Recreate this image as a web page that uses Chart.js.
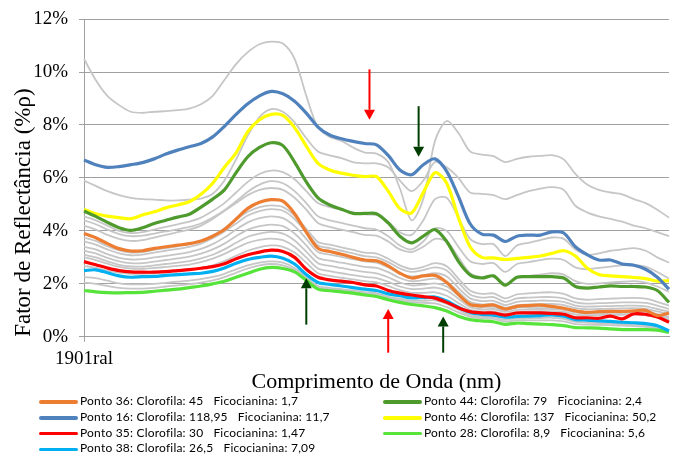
<!DOCTYPE html>
<html>
<head>
<meta charset="utf-8">
<script src="https://cdn.jsdelivr.net/npm/chart.js@4.4.0/dist/chart.umd.min.js"></script>
<style>
  body { margin: 0; background: #fff; }
  #wrap { position: relative; width: 682px; height: 457px; }
  #chart { position: absolute; left: 0; top: 0; }
  .leg { position: absolute; font: 12px Lato, sans-serif; letter-spacing: 0.2px; color: #000; white-space: nowrap; line-height: 14px; }
  .leg i { display: inline-block; width: 39px; height: 3.5px; border-radius: 2px; vertical-align: middle; margin-right: 2px; }
  .leg b { font-weight: normal; margin-left: 10px; }
</style>
</head>
<body>
<div id="wrap">
  <canvas id="chart" width="682" height="395"></canvas>
  <div id="legend"></div>
</div>
<script>
// comprimento de onda (nm) - so o primeiro rotulo aparece no eixo
const wavelengths = [400, 410, 420, 430, 440, 450, 460, 470, 480, 490,
  500, 510, 520, 530, 540, 550, 560, 570, 580, 590,
  600, 610, 620, 630, 640, 650, 660, 670, 680, 690,
  700, 710, 720, 730, 740, 750, 760, 770, 780, 790,
  800, 810, 820, 830, 840, 850, 860, 870, 880, 890, 900];
const xTickLabel = '1901ral';
const yTicks = [0, 2, 4, 6, 8, 10, 12];

// pontos destacados
const pontos = ['Ponto 36', 'Ponto 16', 'Ponto 35', 'Ponto 38', 'Ponto 44', 'Ponto 46', 'Ponto 28'];
const clorofila = ['45', '118,95', '30', '26,5', '79', '137', '8,9'];
const ficocianina = ['1,7', '11,7', '1,47', '7,09', '2,4', '50,2', '5,6'];
const colors = ['#ED7D31', '#4F81BD', '#FF0000', '#00B0F0', '#4E9A2C', '#FFFF00', '#56E33A'];

const p36 = [3.90, 3.74, 3.52, 3.33, 3.24, 3.25, 3.34, 3.40, 3.46, 3.52, 3.62, 3.80, 4.05, 4.45, 4.85, 5.08, 5.18, 5.12, 4.65, 3.95,
  3.34, 3.22, 3.12, 3.00, 2.90, 2.87, 2.68, 2.40, 2.22, 2.30, 2.32, 2.05, 1.60, 1.22, 1.17, 1.20, 1.05, 1.15, 1.18, 1.20,
  1.15, 1.08, 0.98, 0.92, 0.95, 0.96, 0.96, 0.98, 1.00, 0.80, 0.90];
const p16 = [6.68, 6.50, 6.40, 6.43, 6.50, 6.58, 6.72, 6.90, 7.05, 7.18, 7.30, 7.55, 7.95, 8.40, 8.80, 9.10, 9.27, 9.18, 8.90, 8.45,
  7.92, 7.62, 7.48, 7.38, 7.30, 7.25, 6.85, 6.30, 6.12, 6.50, 6.72, 6.25, 5.30, 4.27, 3.88, 3.84, 3.60, 3.80, 3.84, 3.84,
  3.96, 3.92, 3.40, 3.10, 2.90, 2.90, 2.75, 2.70, 2.55, 2.25, 1.80];
const p35 = [2.84, 2.72, 2.60, 2.50, 2.45, 2.44, 2.44, 2.46, 2.50, 2.54, 2.59, 2.65, 2.76, 2.95, 3.10, 3.20, 3.27, 3.22, 3.00, 2.55,
  2.25, 2.15, 2.10, 2.05, 1.96, 1.92, 1.75, 1.65, 1.58, 1.52, 1.46, 1.30, 1.10, 0.95, 0.90, 0.90, 0.82, 0.90, 0.90, 0.90,
  0.88, 0.85, 0.72, 0.72, 0.70, 0.78, 0.68, 0.87, 0.85, 0.75, 0.55];
const p38 = [2.50, 2.53, 2.42, 2.30, 2.25, 2.27, 2.28, 2.32, 2.35, 2.38, 2.40, 2.47, 2.60, 2.78, 2.92, 3.00, 3.05, 2.97, 2.75, 2.35,
  2.05, 1.98, 1.92, 1.86, 1.80, 1.75, 1.62, 1.55, 1.47, 1.48, 1.50, 1.35, 1.12, 0.92, 0.85, 0.82, 0.74, 0.77, 0.78, 0.80,
  0.83, 0.78, 0.65, 0.63, 0.60, 0.58, 0.55, 0.53, 0.50, 0.42, 0.22];
const p44 = [4.75, 4.55, 4.32, 4.12, 4.02, 4.12, 4.28, 4.40, 4.52, 4.63, 4.90, 5.20, 5.55, 6.20, 6.80, 7.15, 7.33, 7.22, 6.60, 5.85,
  5.25, 4.98, 4.82, 4.66, 4.66, 4.65, 4.30, 3.80, 3.55, 3.80, 4.05, 3.60, 2.85, 2.34, 2.22, 2.30, 1.95, 2.25, 2.27, 2.27,
  2.27, 2.22, 1.90, 1.84, 1.88, 1.92, 1.90, 1.90, 1.88, 1.75, 1.30];
const p46 = [4.81, 4.65, 4.56, 4.50, 4.46, 4.60, 4.72, 4.87, 4.98, 5.10, 5.38, 5.80, 6.40, 6.95, 7.75, 8.20, 8.40, 8.36, 7.90, 7.20,
  6.55, 6.30, 6.18, 6.10, 6.05, 6.05, 5.50, 4.84, 4.68, 5.45, 6.20, 5.80, 4.50, 3.40, 3.00, 2.98, 2.92, 2.96, 3.00, 3.05,
  3.15, 3.25, 3.05, 2.60, 2.35, 2.30, 2.27, 2.24, 2.20, 2.10, 2.12];
const p28 = [1.75, 1.70, 1.67, 1.66, 1.67, 1.68, 1.72, 1.76, 1.80, 1.86, 1.92, 2.00, 2.10, 2.25, 2.40, 2.55, 2.62, 2.58, 2.45, 2.13,
  1.80, 1.74, 1.70, 1.65, 1.58, 1.52, 1.40, 1.30, 1.22, 1.17, 1.10, 0.97, 0.78, 0.65, 0.60, 0.57, 0.47, 0.52, 0.50, 0.48,
  0.46, 0.42, 0.35, 0.34, 0.33, 0.30, 0.27, 0.27, 0.27, 0.25, 0.17];
const destaques = [p36, p16, p35, p38, p44, p46, p28];

// demais pontos (cinza)
const outros = [
  [10.5, 9.7, 9.1, 8.75, 8.5, 8.46, 8.50, 8.52, 8.56, 8.62, 8.78, 9.10, 9.70, 10.30, 10.75, 11.05, 11.15, 11.08, 10.5, 9.1,
   7.90, 7.55, 7.40, 7.15, 6.96, 6.92, 6.60, 5.60, 4.40, 5.20, 7.40, 8.15, 7.70, 7.00, 6.88, 6.82, 6.60, 6.72, 6.80, 6.83,
   6.86, 6.70, 6.15, 5.75, 5.55, 5.45, 5.38, 5.20, 5.05, 4.80, 4.50],
  [5.90, 5.70, 5.50, 5.35, 5.25, 5.20, 5.18, 5.15, 5.15, 5.18, 5.22, 5.40, 5.90, 6.70, 7.60, 8.30, 8.60, 8.50, 8.10, 7.50,
   7.00, 6.85, 6.75, 6.60, 6.55, 6.55, 6.40, 5.90, 5.50, 5.90, 6.60, 6.40, 6.00, 5.45, 5.40, 5.35, 5.20, 5.35, 5.50, 5.60,
   5.65, 5.55, 4.95, 4.70, 4.55, 4.45, 4.35, 4.20, 4.10, 3.95, 3.80],
  [4.55, 4.40, 4.20, 4.00, 3.92, 3.95, 4.05, 4.15, 4.25, 4.35, 4.50, 4.75, 5.05, 5.45, 5.85, 6.15, 6.28, 6.22, 5.95, 5.50,
   5.05, 4.90, 4.80, 4.70, 4.62, 4.60, 4.35, 3.95, 3.85, 4.40, 5.20, 5.25, 4.50, 3.70, 3.50, 3.50, 3.05, 3.45, 3.55, 3.65,
   3.75, 3.70, 3.30, 3.10, 3.15, 3.25, 3.30, 3.35, 3.25, 3.00, 2.80],
  [4.40, 4.25, 4.05, 3.88, 3.80, 3.82, 3.90, 3.98, 4.06, 4.15, 4.28, 4.50, 4.78, 5.12, 5.48, 5.75, 5.88, 5.80, 5.50, 5.05,
   4.55, 4.40, 4.30, 4.20, 4.10, 4.05, 3.80, 3.45, 3.30, 3.60, 4.10, 4.00, 3.40, 2.85, 2.75, 2.78, 2.45, 2.75, 2.82, 2.90,
   2.95, 2.90, 2.62, 2.55, 2.60, 2.65, 2.70, 2.72, 2.65, 2.45, 2.20],
  [4.20, 4.05, 3.85, 3.70, 3.62, 3.65, 3.75, 3.85, 3.95, 4.05, 4.20, 4.45, 4.75, 5.05, 5.35, 5.55, 5.62, 5.55, 5.25, 4.80,
   4.30, 4.15, 4.05, 3.95, 3.85, 3.82, 3.60, 3.30, 3.20, 3.40, 3.70, 3.60, 3.00, 2.40, 2.25, 2.28, 2.00, 2.25, 2.30, 2.35,
   2.40, 2.35, 2.10, 2.00, 2.02, 2.05, 2.08, 2.10, 2.05, 1.90, 1.70],
  [3.75, 3.62, 3.42, 3.26, 3.18, 3.20, 3.28, 3.35, 3.42, 3.50, 3.62, 3.82, 4.10, 4.42, 4.72, 4.90, 4.96, 4.90, 4.58, 4.08,
   3.58, 3.48, 3.38, 3.28, 3.18, 3.14, 2.95, 2.70, 2.56, 2.64, 2.78, 2.66, 2.20, 1.75, 1.62, 1.64, 1.45, 1.60, 1.64, 1.67,
   1.68, 1.62, 1.45, 1.40, 1.42, 1.44, 1.46, 1.47, 1.44, 1.32, 1.18],
  [3.60, 3.48, 3.30, 3.15, 3.08, 3.10, 3.18, 3.25, 3.32, 3.40, 3.52, 3.72, 3.98, 4.28, 4.58, 4.75, 4.82, 4.76, 4.45, 3.95,
   3.45, 3.35, 3.25, 3.15, 3.05, 3.00, 2.82, 2.58, 2.45, 2.52, 2.62, 2.50, 2.05, 1.60, 1.48, 1.50, 1.32, 1.45, 1.48, 1.50,
   1.50, 1.45, 1.30, 1.25, 1.27, 1.28, 1.30, 1.30, 1.28, 1.18, 1.05],
  [3.40, 3.30, 3.12, 2.98, 2.92, 2.93, 3.00, 3.06, 3.12, 3.20, 3.32, 3.50, 3.75, 4.05, 4.32, 4.48, 4.55, 4.48, 4.18, 3.70,
   3.20, 3.10, 3.02, 2.93, 2.85, 2.80, 2.62, 2.40, 2.28, 2.33, 2.40, 2.28, 1.85, 1.45, 1.35, 1.36, 1.20, 1.32, 1.35, 1.37,
   1.36, 1.32, 1.18, 1.14, 1.15, 1.16, 1.17, 1.18, 1.15, 1.05, 0.95],
  [3.25, 3.15, 2.98, 2.85, 2.78, 2.78, 2.84, 2.90, 2.96, 3.03, 3.14, 3.30, 3.52, 3.80, 4.05, 4.18, 4.24, 4.18, 3.90, 3.45,
   2.98, 2.88, 2.80, 2.72, 2.64, 2.60, 2.44, 2.22, 2.10, 2.14, 2.20, 2.08, 1.70, 1.32, 1.22, 1.24, 1.10, 1.20, 1.22, 1.24,
   1.24, 1.20, 1.08, 1.04, 1.05, 1.06, 1.07, 1.08, 1.05, 0.96, 0.86],
  [3.10, 3.00, 2.85, 2.72, 2.66, 2.65, 2.70, 2.75, 2.80, 2.86, 2.96, 3.10, 3.30, 3.55, 3.78, 3.90, 3.96, 3.90, 3.64, 3.22,
   2.78, 2.68, 2.60, 2.52, 2.45, 2.40, 2.25, 2.05, 1.94, 1.97, 2.02, 1.90, 1.56, 1.20, 1.12, 1.13, 1.00, 1.10, 1.12, 1.13,
   1.13, 1.10, 0.98, 0.94, 0.95, 0.96, 0.97, 0.98, 0.95, 0.86, 0.76],
  [3.00, 2.90, 2.76, 2.64, 2.58, 2.57, 2.60, 2.64, 2.68, 2.73, 2.82, 2.95, 3.13, 3.35, 3.55, 3.66, 3.71, 3.65, 3.40, 3.00,
   2.58, 2.48, 2.40, 2.33, 2.26, 2.22, 2.08, 1.90, 1.80, 1.82, 1.86, 1.75, 1.44, 1.12, 1.04, 1.05, 0.94, 1.02, 1.04, 1.05,
   1.05, 1.02, 0.92, 0.88, 0.89, 0.90, 0.90, 0.91, 0.88, 0.80, 0.70],
  [2.68, 2.60, 2.50, 2.42, 2.38, 2.38, 2.40, 2.44, 2.48, 2.53, 2.60, 2.70, 2.86, 3.06, 3.25, 3.38, 3.45, 3.40, 3.18, 2.80,
   2.40, 2.30, 2.23, 2.17, 2.10, 2.06, 1.92, 1.76, 1.66, 1.66, 1.68, 1.55, 1.28, 1.02, 0.96, 0.96, 0.86, 0.94, 0.96, 0.97,
   0.97, 0.94, 0.84, 0.82, 0.82, 0.83, 0.83, 0.84, 0.82, 0.74, 0.64],
  [2.25, 2.22, 2.12, 2.02, 1.98, 1.98, 2.00, 2.04, 2.08, 2.12, 2.18, 2.26, 2.38, 2.55, 2.70, 2.80, 2.85, 2.80, 2.60, 2.25,
   1.92, 1.85, 1.80, 1.75, 1.69, 1.65, 1.52, 1.44, 1.36, 1.36, 1.38, 1.24, 1.02, 0.82, 0.76, 0.74, 0.65, 0.70, 0.70, 0.71,
   0.72, 0.68, 0.56, 0.54, 0.52, 0.50, 0.48, 0.46, 0.44, 0.37, 0.25],
  [2.05, 2.00, 1.92, 1.85, 1.82, 1.82, 1.85, 1.90, 1.94, 1.99, 2.05, 2.13, 2.25, 2.42, 2.58, 2.70, 2.75, 2.70, 2.52, 2.20,
   1.86, 1.80, 1.76, 1.70, 1.64, 1.60, 1.48, 1.38, 1.30, 1.28, 1.26, 1.12, 0.92, 0.76, 0.70, 0.68, 0.58, 0.63, 0.62, 0.62,
   0.62, 0.58, 0.48, 0.46, 0.45, 0.44, 0.42, 0.40, 0.38, 0.33, 0.22]
];

// setas de anotacao (nm, %)
const setas = [
  { nm: 644, de: 10.1, ate: 8.2, cor: '#FF0000' },
  { nm: 686, de: 8.71, ate: 6.80, cor: '#003D00' },
  { nm: 590, de: 0.46, ate: 2.21, cor: '#003D00' },
  { nm: 660, de: -0.6, ate: 1.05, cor: '#FF0000' },
  { nm: 707, de: -0.6, ate: 0.77, cor: '#003D00' }
];

const gridColor = '#A0A0A0';
const serif = "'Liberation Serif', 'Times New Roman', serif";

const datasets = destaques.map((d, i) => ({
  label: pontos[i],
  data: d,
  borderColor: colors[i],
  borderWidth: 3.2,
  pointRadius: 0,
  tension: 0.3,
  order: i
}));
outros.forEach((d, i) => datasets.push({
  label: 'outro ' + i,
  data: d,
  borderColor: '#C6C6C6',
  borderWidth: 1.8,
  pointRadius: 0,
  tension: 0.3,
  order: 50 + i
}));

const setasPlugin = {
  id: 'setas',
  afterDatasetsDraw(chart) {
    const { ctx, scales: { x, y } } = chart;
    const n = wavelengths.length - 1;
    const x0 = x.getPixelForValue(0), x1 = x.getPixelForValue(n);
    ctx.save();
    setas.forEach(s => {
      const px = x0 + (s.nm - wavelengths[0]) / (wavelengths[n] - wavelengths[0]) * (x1 - x0);
      const ya = y.getPixelForValue(s.de), yb = y.getPixelForValue(s.ate);
      const dir = yb > ya ? 1 : -1;
      const head = 10;
      ctx.strokeStyle = s.cor;
      ctx.fillStyle = s.cor;
      ctx.lineWidth = 2;
      ctx.beginPath();
      ctx.moveTo(px, ya);
      ctx.lineTo(px, yb - dir * head);
      ctx.stroke();
      ctx.beginPath();
      ctx.moveTo(px, yb);
      ctx.lineTo(px - 5.5, yb - dir * head);
      ctx.lineTo(px + 5.5, yb - dir * head);
      ctx.closePath();
      ctx.fill();
    });
    ctx.restore();
  }
};

new Chart(document.getElementById('chart'), {
  type: 'line',
  data: { labels: wavelengths, datasets: datasets },
  options: {
    responsive: false,
    animation: false,
    layout: { padding: { left: 0, right: 13, top: 3, bottom: 0 } },
    scales: {
      x: {
        grid: {
          drawOnChartArea: false,
          tickLength: 5,
          color: c => c.index === 0 ? gridColor : 'transparent'
        },
        border: { color: gridColor },
        ticks: {
          autoSkip: false,
          maxRotation: 0,
          padding: 6,
          color: '#000',
          font: { family: serif, size: 19 },
          callback: (v, i) => i === 0 ? xTickLabel : ''
        },
        title: {
          display: true,
          text: 'Comprimento de Onda (nm)',
          color: '#000',
          font: { family: serif, size: 22 },
          padding: { top: -8, bottom: 0 }
        }
      },
      y: {
        min: yTicks[0],
        max: yTicks[yTicks.length - 1],
        afterBuildTicks: s => { s.ticks = yTicks.map(v => ({ value: v })); },
        afterFit: s => { s.width = 84; },
        grid: { color: gridColor, tickLength: 5 },
        border: { color: gridColor },
        ticks: {
          padding: 11,
          color: '#000',
          font: { family: serif, size: 19, lineHeight: 0.85 },
          callback: v => v + '%'
        },
        title: {
          display: true,
          align: 'start',
          text: 'Fator de Reflectância (%ρ)',
          color: '#000',
          font: { family: serif, size: 23 },
          padding: { top: 10, bottom: 0 }
        }
      }
    },
    plugins: {
      legend: { display: false },
      tooltip: { enabled: false }
    }
  },
  plugins: [setasPlugin]
});

// legenda em duas colunas
const legend = document.getElementById('legend');
pontos.forEach((p, i) => {
  const col = i < 4 ? 0 : 1;
  const row = col === 0 ? i : i - 4;
  const el = document.createElement('div');
  el.className = 'leg';
  el.style.left = (col === 0 ? 39 : 383) + 'px';
  el.style.top = (394 + row * 15.8) + 'px';
  el.innerHTML = '<i style="background:' + colors[i] + '"></i>' + p + ': Clorofila: ' + clorofila[i] +
    '<b>Ficocianina: ' + ficocianina[i] + '</b>';
  legend.appendChild(el);
});
</script>
</body>
</html>
